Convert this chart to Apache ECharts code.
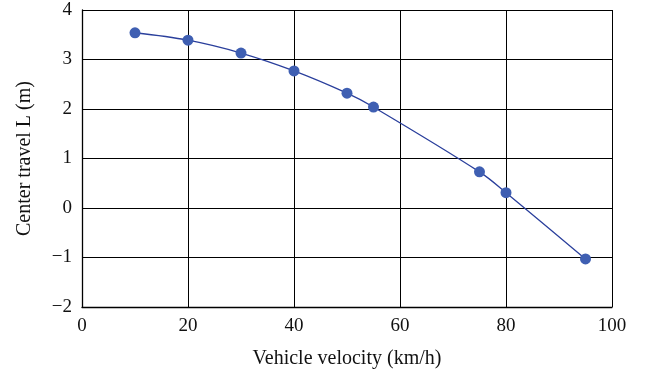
<!DOCTYPE html>
<html><head><meta charset="utf-8">
<script src="https://cdn.jsdelivr.net/npm/echarts@6/dist/echarts.min.js"></script>
<style>html,body{margin:0;padding:0;background:#fff}#c{width:650px;height:378px}</style>
</head><body><div id="c"></div>
<script>
const velocity = [10, 20, 30, 40, 50, 55, 75, 80, 95];
const centerTravel = [3.54, 3.39, 3.13, 2.77, 2.32, 2.04, 0.73, 0.31, -1.03];
const xTitle = 'Vehicle velocity (km/h)';
const yTitle = 'Center travel L (m)';

const chart = echarts.init(document.getElementById('c'), null, {renderer: 'canvas'});
const font = 'Liberation Serif';
chart.setOption({
  animation: false,
  backgroundColor: '#fff',
  grid: {left: 82, right: 38, top: 10, bottom: 71, containLabel: false},
  xAxis: {
    type: 'value', min: 0, max: 100, interval: 20,
    name: xTitle, nameLocation: 'middle', nameGap: 42,
    nameTextStyle: {fontFamily: font, fontSize: 20, color: '#111'},
    axisLine: {show: true, onZero: false, lineStyle: {color: '#000', width: 1.3}},
    axisTick: {show: false},
    axisLabel: {fontFamily: font, fontSize: 19, color: '#111', margin: 10},
    splitLine: {show: true, lineStyle: {color: '#000', width: 1}}
  },
  yAxis: {
    type: 'value', min: -2, max: 4, interval: 1,
    name: yTitle, nameLocation: 'middle', nameGap: 47,
    nameTextStyle: {fontFamily: font, fontSize: 20, color: '#111'},
    axisLine: {show: true, onZero: false, lineStyle: {color: '#000', width: 1.3}},
    axisTick: {show: false},
    axisLabel: {fontFamily: font, fontSize: 19, color: '#111', margin: 10,
      formatter: v => v < 0 ? '\u2212' + Math.abs(v) : String(v)},
    splitLine: {show: true, lineStyle: {color: '#000', width: 1}}
  },
  series: [{
    type: 'line',
    data: velocity.map((v, i) => [v, centerTravel[i]]),
    smooth: 0.35,
    symbol: 'circle', symbolSize: 11,
    lineStyle: {color: '#2a3f9c', width: 1.3},
    itemStyle: {color: '#3f5fb2'},
    z: 3
  }]
});
</script></body></html>
